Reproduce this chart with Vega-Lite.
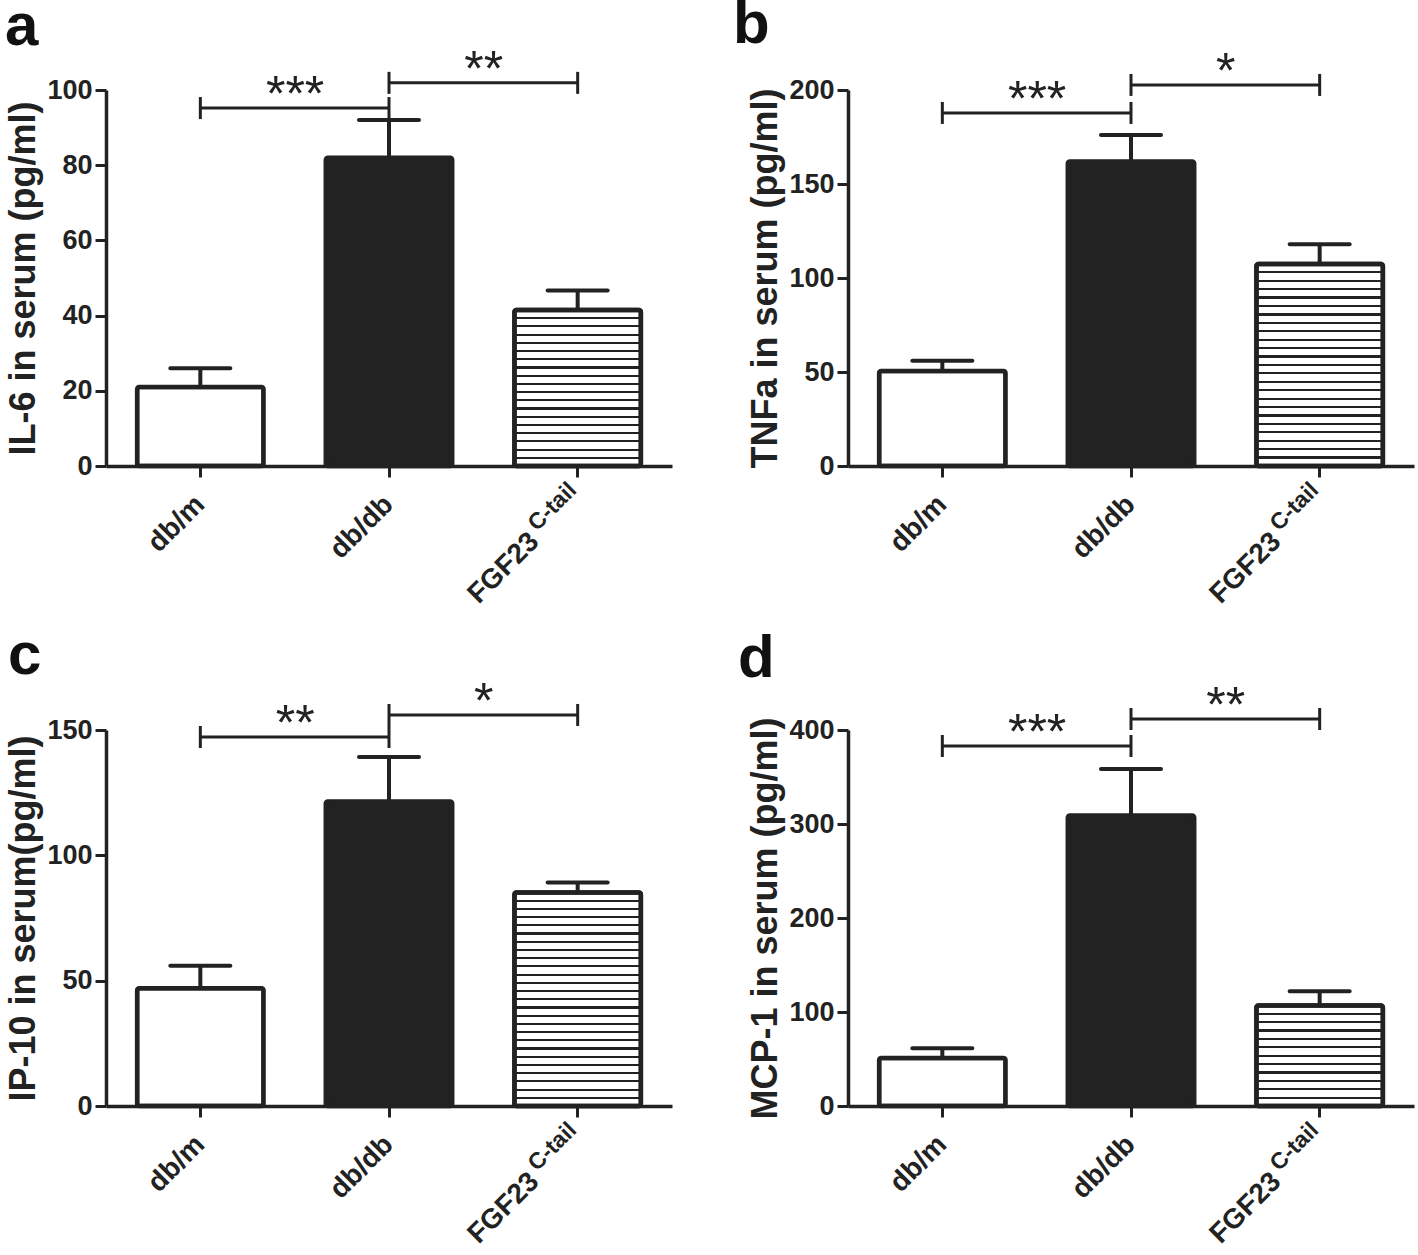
{
  "$schema": "https://vega.github.io/schema/vega-lite/v6.json",
  "background": "white",
  "padding": {"left": 5, "top": -6, "right": 2, "bottom": 2},
  "config": {
    "view": {"stroke": null},
    "font": "Liberation Sans",
    "axis": {"domainColor": "#222", "domainWidth": 3.5, "tickColor": "#222", "tickWidth": 3, "tickSize": 11, "labelColor": "#222", "labelFont": "Liberation Sans", "labelFontWeight": "bold", "labelFontSize": 27, "titleColor": "#222", "titleFont": "Liberation Sans", "titleFontWeight": "bold", "titleFontSize": 36, "grid": false, "labelPadding": 3},
    "axisX": {"labelFontSize": 28, "labelAngle": -45, "labelAlign": "right", "labelBaseline": "middle"},
    "axisY": {"titlePadding": 4},
    "title": {"font": "Liberation Sans", "fontSize": 60, "fontWeight": "bold", "color": "#111", "anchor": "start", "frame": "group"}
  },
  "datasets": {
    "il6": [{"group": "db/m", "mean": 21, "upper": 26}, {"group": "db/db", "mean": 82, "upper": 92}, {"group": "FGF23 C-tail", "mean": 41.5, "upper": 46.7}],
    "il6_sig": [{"from": "db/m", "to": "db/db", "y": 95.2, "label": "***"}, {"from": "db/db", "to": "FGF23 C-tail", "y": 101.9, "label": "**"}],
    "tnf": [{"group": "db/m", "mean": 50.5, "upper": 56}, {"group": "db/db", "mean": 162, "upper": 176}, {"group": "FGF23 C-tail", "mean": 107.5, "upper": 118}],
    "tnf_sig": [{"from": "db/m", "to": "db/db", "y": 187.8, "label": "***"}, {"from": "db/db", "to": "FGF23 C-tail", "y": 202.7, "label": "*"}],
    "ip10": [{"group": "db/m", "mean": 47, "upper": 56}, {"group": "db/db", "mean": 121.5, "upper": 139.2}, {"group": "FGF23 C-tail", "mean": 85.2, "upper": 89.2}],
    "ip10_sig": [{"from": "db/m", "to": "db/db", "y": 147.2, "label": "**"}, {"from": "db/db", "to": "FGF23 C-tail", "y": 156, "label": "*"}],
    "mcp": [{"group": "db/m", "mean": 51, "upper": 61.5}, {"group": "db/db", "mean": 309, "upper": 358.6}, {"group": "FGF23 C-tail", "mean": 107, "upper": 122}],
    "mcp_sig": [{"from": "db/m", "to": "db/db", "y": 383, "label": "***"}, {"from": "db/db", "to": "FGF23 C-tail", "y": 411.7, "label": "**"}]
  },
  "columns": 2,
  "spacing": {"row": 264, "column": 176},
  "bounds": "flush",
  "concat": [
    {
      "width": 566, "height": 376,
      "title": {"text": "a", "dx": -101, "offset": -12},
      "data": {"name": "il6"},
      "layer": [
        {"mark": {"type": "bar", "stroke": "#222", "strokeWidth": 4.5, "cornerRadius": 2},
         "encoding": {
           "x": {"field": "group", "type": "nominal", "scale": {"domain": ["db/m", "db/db", "FGF23 C-tail"], "paddingInner": 0.33, "paddingOuter": 0.165}, "axis": {"title": null, "labelExpr": "datum.value == 'FGF23 C-tail' ? 'FGF23' : datum.value", "labelPadding": {"condition": {"test": "datum.value == 'FGF23 C-tail'", "value": 60}, "value": 23}, "labelOffset": {"condition": {"test": "datum.value == 'FGF23 C-tail'", "value": -43}, "value": 0}}},
           "y": {"field": "mean", "type": "quantitative", "scale": {"domain": [0, 100], "nice": false}, "axis": {"title": "IL-6 in serum (pg/ml)", "values": [0, 20, 40, 60, 80, 100]}},
           "fill": {"condition": {"test": "datum.group === 'db/db'", "value": "#222"}, "value": "#fff"}}},
        {"transform": [{"filter": "datum.group === 'FGF23 C-tail'"}],
         "mark": {"type": "bar", "stroke": "#222", "strokeWidth": 4.5, "cornerRadius": 2, "fill": {"gradient": "linear", "x1": 0, "y1": 0, "x2": 0, "y2": 1, "stops": [
           {"offset": 0, "color": "#fff"},
           {"offset": 0.0458, "color": "#fff"}, {"offset": 0.0458, "color": "#222"}, {"offset": 0.0595, "color": "#222"}, {"offset": 0.0595, "color": "#fff"},
           {"offset": 0.0984, "color": "#fff"}, {"offset": 0.0984, "color": "#222"}, {"offset": 0.1121, "color": "#222"}, {"offset": 0.1121, "color": "#fff"},
           {"offset": 0.1511, "color": "#fff"}, {"offset": 0.1511, "color": "#222"}, {"offset": 0.1647, "color": "#222"}, {"offset": 0.1647, "color": "#fff"},
           {"offset": 0.2037, "color": "#fff"}, {"offset": 0.2037, "color": "#222"}, {"offset": 0.2174, "color": "#222"}, {"offset": 0.2174, "color": "#fff"},
           {"offset": 0.2563, "color": "#fff"}, {"offset": 0.2563, "color": "#222"}, {"offset": 0.27, "color": "#222"}, {"offset": 0.27, "color": "#fff"},
           {"offset": 0.309, "color": "#fff"}, {"offset": 0.309, "color": "#222"}, {"offset": 0.3226, "color": "#222"}, {"offset": 0.3226, "color": "#fff"},
           {"offset": 0.3616, "color": "#fff"}, {"offset": 0.3616, "color": "#222"}, {"offset": 0.3753, "color": "#222"}, {"offset": 0.3753, "color": "#fff"},
           {"offset": 0.4142, "color": "#fff"}, {"offset": 0.4142, "color": "#222"}, {"offset": 0.4279, "color": "#222"}, {"offset": 0.4279, "color": "#fff"},
           {"offset": 0.4668, "color": "#fff"}, {"offset": 0.4668, "color": "#222"}, {"offset": 0.4805, "color": "#222"}, {"offset": 0.4805, "color": "#fff"},
           {"offset": 0.5195, "color": "#fff"}, {"offset": 0.5195, "color": "#222"}, {"offset": 0.5332, "color": "#222"}, {"offset": 0.5332, "color": "#fff"},
           {"offset": 0.5721, "color": "#fff"}, {"offset": 0.5721, "color": "#222"}, {"offset": 0.5858, "color": "#222"}, {"offset": 0.5858, "color": "#fff"},
           {"offset": 0.6247, "color": "#fff"}, {"offset": 0.6247, "color": "#222"}, {"offset": 0.6384, "color": "#222"}, {"offset": 0.6384, "color": "#fff"},
           {"offset": 0.6774, "color": "#fff"}, {"offset": 0.6774, "color": "#222"}, {"offset": 0.6911, "color": "#222"}, {"offset": 0.6911, "color": "#fff"},
           {"offset": 0.73, "color": "#fff"}, {"offset": 0.73, "color": "#222"}, {"offset": 0.7437, "color": "#222"}, {"offset": 0.7437, "color": "#fff"},
           {"offset": 0.7826, "color": "#fff"}, {"offset": 0.7826, "color": "#222"}, {"offset": 0.7963, "color": "#222"}, {"offset": 0.7963, "color": "#fff"},
           {"offset": 0.8353, "color": "#fff"}, {"offset": 0.8353, "color": "#222"}, {"offset": 0.8489, "color": "#222"}, {"offset": 0.8489, "color": "#fff"},
           {"offset": 0.8879, "color": "#fff"}, {"offset": 0.8879, "color": "#222"}, {"offset": 0.9016, "color": "#222"}, {"offset": 0.9016, "color": "#fff"},
           {"offset": 0.9405, "color": "#fff"}, {"offset": 0.9405, "color": "#222"}, {"offset": 0.9542, "color": "#222"}, {"offset": 0.9542, "color": "#fff"},
           {"offset": 1, "color": "#fff"}]}},
         "encoding": {"x": {"field": "group", "type": "nominal"}, "y": {"field": "mean", "type": "quantitative"}}},
        {"mark": {"type": "rule", "color": "#222", "strokeWidth": 4},
         "encoding": {"x": {"field": "group", "type": "nominal"}, "y": {"field": "mean", "type": "quantitative"}, "y2": {"field": "upper"}}},
        {"mark": {"type": "tick", "orient": "horizontal", "color": "#222", "size": 64, "thickness": 4, "opacity": 1, "cornerRadius": 2},
         "encoding": {"x": {"field": "group", "type": "nominal"}, "y": {"field": "upper", "type": "quantitative"}}},
        {"transform": [{"filter": "datum.group === 'FGF23 C-tail'"}],
         "mark": {"type": "text", "text": "C-tail", "angle": 315, "align": "right", "baseline": "middle", "fontSize": 23, "fontWeight": "bold", "color": "#222", "dx": -18, "dy": 11},
         "encoding": {"x": {"field": "group", "type": "nominal"}, "y": {"datum": 0, "type": "quantitative"}}},
        {"data": {"name": "il6_sig"}, "mark": {"type": "rule", "color": "#222", "strokeWidth": 3},
         "encoding": {"x": {"field": "from", "type": "nominal"}, "x2": {"field": "to"}, "y": {"field": "y", "type": "quantitative"}}},
        {"data": {"name": "il6_sig"}, "mark": {"type": "tick", "orient": "vertical", "color": "#222", "size": 22, "thickness": 3, "opacity": 1},
         "encoding": {"x": {"field": "from", "type": "nominal"}, "y": {"field": "y", "type": "quantitative"}}},
        {"data": {"name": "il6_sig"}, "mark": {"type": "tick", "orient": "vertical", "color": "#222", "size": 22, "thickness": 3, "opacity": 1},
         "encoding": {"x": {"field": "to", "type": "nominal"}, "y": {"field": "y", "type": "quantitative"}}},
        {"data": {"name": "il6_sig"}, "mark": {"type": "text", "fontSize": 50, "baseline": "alphabetic", "align": "center", "dy": 3, "color": "#222"},
         "encoding": {"x": {"field": "from", "type": "nominal", "bandPosition": 1.25}, "y": {"field": "y", "type": "quantitative"}, "text": {"field": "label"}}}
      ]
    },
    {
      "width": 566, "height": 376,
      "title": {"text": "b", "dx": -115, "offset": -8},
      "data": {"name": "tnf"},
      "layer": [
        {"mark": {"type": "bar", "stroke": "#222", "strokeWidth": 4.5, "cornerRadius": 2},
         "encoding": {
           "x": {"field": "group", "type": "nominal", "scale": {"domain": ["db/m", "db/db", "FGF23 C-tail"], "paddingInner": 0.33, "paddingOuter": 0.165}, "axis": {"title": null, "labelExpr": "datum.value == 'FGF23 C-tail' ? 'FGF23' : datum.value", "labelPadding": {"condition": {"test": "datum.value == 'FGF23 C-tail'", "value": 60}, "value": 23}, "labelOffset": {"condition": {"test": "datum.value == 'FGF23 C-tail'", "value": -43}, "value": 0}}},
           "y": {"field": "mean", "type": "quantitative", "scale": {"domain": [0, 200], "nice": false}, "axis": {"title": "TNFa in serum (pg/ml)", "values": [0, 50, 100, 150, 200]}},
           "fill": {"condition": {"test": "datum.group === 'db/db'", "value": "#222"}, "value": "#fff"}}},
        {"transform": [{"filter": "datum.group === 'FGF23 C-tail'"}],
         "mark": {"type": "bar", "stroke": "#222", "strokeWidth": 4.5, "cornerRadius": 2, "fill": {"gradient": "linear", "x1": 0, "y1": 0, "x2": 0, "y2": 1, "stops": [
           {"offset": 0, "color": "#fff"},
           {"offset": 0.0362, "color": "#fff"}, {"offset": 0.0362, "color": "#222"}, {"offset": 0.0471, "color": "#222"}, {"offset": 0.0471, "color": "#fff"},
           {"offset": 0.0779, "color": "#fff"}, {"offset": 0.0779, "color": "#222"}, {"offset": 0.0888, "color": "#222"}, {"offset": 0.0888, "color": "#fff"},
           {"offset": 0.1196, "color": "#fff"}, {"offset": 0.1196, "color": "#222"}, {"offset": 0.1304, "color": "#222"}, {"offset": 0.1304, "color": "#fff"},
           {"offset": 0.1612, "color": "#fff"}, {"offset": 0.1612, "color": "#222"}, {"offset": 0.1721, "color": "#222"}, {"offset": 0.1721, "color": "#fff"},
           {"offset": 0.2029, "color": "#fff"}, {"offset": 0.2029, "color": "#222"}, {"offset": 0.2138, "color": "#222"}, {"offset": 0.2138, "color": "#fff"},
           {"offset": 0.2446, "color": "#fff"}, {"offset": 0.2446, "color": "#222"}, {"offset": 0.2554, "color": "#222"}, {"offset": 0.2554, "color": "#fff"},
           {"offset": 0.2862, "color": "#fff"}, {"offset": 0.2862, "color": "#222"}, {"offset": 0.2971, "color": "#222"}, {"offset": 0.2971, "color": "#fff"},
           {"offset": 0.3279, "color": "#fff"}, {"offset": 0.3279, "color": "#222"}, {"offset": 0.3388, "color": "#222"}, {"offset": 0.3388, "color": "#fff"},
           {"offset": 0.3696, "color": "#fff"}, {"offset": 0.3696, "color": "#222"}, {"offset": 0.3804, "color": "#222"}, {"offset": 0.3804, "color": "#fff"},
           {"offset": 0.4112, "color": "#fff"}, {"offset": 0.4112, "color": "#222"}, {"offset": 0.4221, "color": "#222"}, {"offset": 0.4221, "color": "#fff"},
           {"offset": 0.4529, "color": "#fff"}, {"offset": 0.4529, "color": "#222"}, {"offset": 0.4638, "color": "#222"}, {"offset": 0.4638, "color": "#fff"},
           {"offset": 0.4946, "color": "#fff"}, {"offset": 0.4946, "color": "#222"}, {"offset": 0.5054, "color": "#222"}, {"offset": 0.5054, "color": "#fff"},
           {"offset": 0.5362, "color": "#fff"}, {"offset": 0.5362, "color": "#222"}, {"offset": 0.5471, "color": "#222"}, {"offset": 0.5471, "color": "#fff"},
           {"offset": 0.5779, "color": "#fff"}, {"offset": 0.5779, "color": "#222"}, {"offset": 0.5888, "color": "#222"}, {"offset": 0.5888, "color": "#fff"},
           {"offset": 0.6196, "color": "#fff"}, {"offset": 0.6196, "color": "#222"}, {"offset": 0.6304, "color": "#222"}, {"offset": 0.6304, "color": "#fff"},
           {"offset": 0.6612, "color": "#fff"}, {"offset": 0.6612, "color": "#222"}, {"offset": 0.6721, "color": "#222"}, {"offset": 0.6721, "color": "#fff"},
           {"offset": 0.7029, "color": "#fff"}, {"offset": 0.7029, "color": "#222"}, {"offset": 0.7138, "color": "#222"}, {"offset": 0.7138, "color": "#fff"},
           {"offset": 0.7446, "color": "#fff"}, {"offset": 0.7446, "color": "#222"}, {"offset": 0.7554, "color": "#222"}, {"offset": 0.7554, "color": "#fff"},
           {"offset": 0.7862, "color": "#fff"}, {"offset": 0.7862, "color": "#222"}, {"offset": 0.7971, "color": "#222"}, {"offset": 0.7971, "color": "#fff"},
           {"offset": 0.8279, "color": "#fff"}, {"offset": 0.8279, "color": "#222"}, {"offset": 0.8388, "color": "#222"}, {"offset": 0.8388, "color": "#fff"},
           {"offset": 0.8696, "color": "#fff"}, {"offset": 0.8696, "color": "#222"}, {"offset": 0.8804, "color": "#222"}, {"offset": 0.8804, "color": "#fff"},
           {"offset": 0.9112, "color": "#fff"}, {"offset": 0.9112, "color": "#222"}, {"offset": 0.9221, "color": "#222"}, {"offset": 0.9221, "color": "#fff"},
           {"offset": 0.9529, "color": "#fff"}, {"offset": 0.9529, "color": "#222"}, {"offset": 0.9638, "color": "#222"}, {"offset": 0.9638, "color": "#fff"},
           {"offset": 1, "color": "#fff"}]}},
         "encoding": {"x": {"field": "group", "type": "nominal"}, "y": {"field": "mean", "type": "quantitative"}}},
        {"mark": {"type": "rule", "color": "#222", "strokeWidth": 4},
         "encoding": {"x": {"field": "group", "type": "nominal"}, "y": {"field": "mean", "type": "quantitative"}, "y2": {"field": "upper"}}},
        {"mark": {"type": "tick", "orient": "horizontal", "color": "#222", "size": 64, "thickness": 4, "opacity": 1, "cornerRadius": 2},
         "encoding": {"x": {"field": "group", "type": "nominal"}, "y": {"field": "upper", "type": "quantitative"}}},
        {"transform": [{"filter": "datum.group === 'FGF23 C-tail'"}],
         "mark": {"type": "text", "text": "C-tail", "angle": 315, "align": "right", "baseline": "middle", "fontSize": 23, "fontWeight": "bold", "color": "#222", "dx": -18, "dy": 11},
         "encoding": {"x": {"field": "group", "type": "nominal"}, "y": {"datum": 0, "type": "quantitative"}}},
        {"data": {"name": "tnf_sig"}, "mark": {"type": "rule", "color": "#222", "strokeWidth": 3},
         "encoding": {"x": {"field": "from", "type": "nominal"}, "x2": {"field": "to"}, "y": {"field": "y", "type": "quantitative"}}},
        {"data": {"name": "tnf_sig"}, "mark": {"type": "tick", "orient": "vertical", "color": "#222", "size": 22, "thickness": 3, "opacity": 1},
         "encoding": {"x": {"field": "from", "type": "nominal"}, "y": {"field": "y", "type": "quantitative"}}},
        {"data": {"name": "tnf_sig"}, "mark": {"type": "tick", "orient": "vertical", "color": "#222", "size": 22, "thickness": 3, "opacity": 1},
         "encoding": {"x": {"field": "to", "type": "nominal"}, "y": {"field": "y", "type": "quantitative"}}},
        {"data": {"name": "tnf_sig"}, "mark": {"type": "text", "fontSize": 50, "baseline": "alphabetic", "align": "center", "dy": 3, "color": "#222"},
         "encoding": {"x": {"field": "from", "type": "nominal", "bandPosition": 1.25}, "y": {"field": "y", "type": "quantitative"}, "text": {"field": "label"}}}
      ]
    },
    {
      "width": 566, "height": 376,
      "title": {"text": "c", "dx": -98, "offset": -9},
      "data": {"name": "ip10"},
      "layer": [
        {"mark": {"type": "bar", "stroke": "#222", "strokeWidth": 4.5, "cornerRadius": 2},
         "encoding": {
           "x": {"field": "group", "type": "nominal", "scale": {"domain": ["db/m", "db/db", "FGF23 C-tail"], "paddingInner": 0.33, "paddingOuter": 0.165}, "axis": {"title": null, "labelExpr": "datum.value == 'FGF23 C-tail' ? 'FGF23' : datum.value", "labelPadding": {"condition": {"test": "datum.value == 'FGF23 C-tail'", "value": 60}, "value": 23}, "labelOffset": {"condition": {"test": "datum.value == 'FGF23 C-tail'", "value": -43}, "value": 0}}},
           "y": {"field": "mean", "type": "quantitative", "scale": {"domain": [0, 150], "nice": false}, "axis": {"title": "IP-10 in serum(pg/ml)", "values": [0, 50, 100, 150]}},
           "fill": {"condition": {"test": "datum.group === 'db/db'", "value": "#222"}, "value": "#fff"}}},
        {"transform": [{"filter": "datum.group === 'FGF23 C-tail'"}],
         "mark": {"type": "bar", "stroke": "#222", "strokeWidth": 4.5, "cornerRadius": 2, "fill": {"gradient": "linear", "x1": 0, "y1": 0, "x2": 0, "y2": 1, "stops": [
           {"offset": 0, "color": "#fff"},
           {"offset": 0.0335, "color": "#fff"}, {"offset": 0.0335, "color": "#222"}, {"offset": 0.0435, "color": "#222"}, {"offset": 0.0435, "color": "#fff"},
           {"offset": 0.0719, "color": "#fff"}, {"offset": 0.0719, "color": "#222"}, {"offset": 0.0819, "color": "#222"}, {"offset": 0.0819, "color": "#fff"},
           {"offset": 0.1104, "color": "#fff"}, {"offset": 0.1104, "color": "#222"}, {"offset": 0.1204, "color": "#222"}, {"offset": 0.1204, "color": "#fff"},
           {"offset": 0.1488, "color": "#fff"}, {"offset": 0.1488, "color": "#222"}, {"offset": 0.1588, "color": "#222"}, {"offset": 0.1588, "color": "#fff"},
           {"offset": 0.1873, "color": "#fff"}, {"offset": 0.1873, "color": "#222"}, {"offset": 0.1973, "color": "#222"}, {"offset": 0.1973, "color": "#fff"},
           {"offset": 0.2258, "color": "#fff"}, {"offset": 0.2258, "color": "#222"}, {"offset": 0.2358, "color": "#222"}, {"offset": 0.2358, "color": "#fff"},
           {"offset": 0.2642, "color": "#fff"}, {"offset": 0.2642, "color": "#222"}, {"offset": 0.2742, "color": "#222"}, {"offset": 0.2742, "color": "#fff"},
           {"offset": 0.3027, "color": "#fff"}, {"offset": 0.3027, "color": "#222"}, {"offset": 0.3127, "color": "#222"}, {"offset": 0.3127, "color": "#fff"},
           {"offset": 0.3412, "color": "#fff"}, {"offset": 0.3412, "color": "#222"}, {"offset": 0.3512, "color": "#222"}, {"offset": 0.3512, "color": "#fff"},
           {"offset": 0.3796, "color": "#fff"}, {"offset": 0.3796, "color": "#222"}, {"offset": 0.3896, "color": "#222"}, {"offset": 0.3896, "color": "#fff"},
           {"offset": 0.4181, "color": "#fff"}, {"offset": 0.4181, "color": "#222"}, {"offset": 0.4281, "color": "#222"}, {"offset": 0.4281, "color": "#fff"},
           {"offset": 0.4565, "color": "#fff"}, {"offset": 0.4565, "color": "#222"}, {"offset": 0.4665, "color": "#222"}, {"offset": 0.4665, "color": "#fff"},
           {"offset": 0.495, "color": "#fff"}, {"offset": 0.495, "color": "#222"}, {"offset": 0.505, "color": "#222"}, {"offset": 0.505, "color": "#fff"},
           {"offset": 0.5335, "color": "#fff"}, {"offset": 0.5335, "color": "#222"}, {"offset": 0.5435, "color": "#222"}, {"offset": 0.5435, "color": "#fff"},
           {"offset": 0.5719, "color": "#fff"}, {"offset": 0.5719, "color": "#222"}, {"offset": 0.5819, "color": "#222"}, {"offset": 0.5819, "color": "#fff"},
           {"offset": 0.6104, "color": "#fff"}, {"offset": 0.6104, "color": "#222"}, {"offset": 0.6204, "color": "#222"}, {"offset": 0.6204, "color": "#fff"},
           {"offset": 0.6488, "color": "#fff"}, {"offset": 0.6488, "color": "#222"}, {"offset": 0.6588, "color": "#222"}, {"offset": 0.6588, "color": "#fff"},
           {"offset": 0.6873, "color": "#fff"}, {"offset": 0.6873, "color": "#222"}, {"offset": 0.6973, "color": "#222"}, {"offset": 0.6973, "color": "#fff"},
           {"offset": 0.7258, "color": "#fff"}, {"offset": 0.7258, "color": "#222"}, {"offset": 0.7358, "color": "#222"}, {"offset": 0.7358, "color": "#fff"},
           {"offset": 0.7642, "color": "#fff"}, {"offset": 0.7642, "color": "#222"}, {"offset": 0.7742, "color": "#222"}, {"offset": 0.7742, "color": "#fff"},
           {"offset": 0.8027, "color": "#fff"}, {"offset": 0.8027, "color": "#222"}, {"offset": 0.8127, "color": "#222"}, {"offset": 0.8127, "color": "#fff"},
           {"offset": 0.8412, "color": "#fff"}, {"offset": 0.8412, "color": "#222"}, {"offset": 0.8512, "color": "#222"}, {"offset": 0.8512, "color": "#fff"},
           {"offset": 0.8796, "color": "#fff"}, {"offset": 0.8796, "color": "#222"}, {"offset": 0.8896, "color": "#222"}, {"offset": 0.8896, "color": "#fff"},
           {"offset": 0.9181, "color": "#fff"}, {"offset": 0.9181, "color": "#222"}, {"offset": 0.9281, "color": "#222"}, {"offset": 0.9281, "color": "#fff"},
           {"offset": 0.9565, "color": "#fff"}, {"offset": 0.9565, "color": "#222"}, {"offset": 0.9665, "color": "#222"}, {"offset": 0.9665, "color": "#fff"},
           {"offset": 1, "color": "#fff"}]}},
         "encoding": {"x": {"field": "group", "type": "nominal"}, "y": {"field": "mean", "type": "quantitative"}}},
        {"mark": {"type": "rule", "color": "#222", "strokeWidth": 4},
         "encoding": {"x": {"field": "group", "type": "nominal"}, "y": {"field": "mean", "type": "quantitative"}, "y2": {"field": "upper"}}},
        {"mark": {"type": "tick", "orient": "horizontal", "color": "#222", "size": 64, "thickness": 4, "opacity": 1, "cornerRadius": 2},
         "encoding": {"x": {"field": "group", "type": "nominal"}, "y": {"field": "upper", "type": "quantitative"}}},
        {"transform": [{"filter": "datum.group === 'FGF23 C-tail'"}],
         "mark": {"type": "text", "text": "C-tail", "angle": 315, "align": "right", "baseline": "middle", "fontSize": 23, "fontWeight": "bold", "color": "#222", "dx": -18, "dy": 11},
         "encoding": {"x": {"field": "group", "type": "nominal"}, "y": {"datum": 0, "type": "quantitative"}}},
        {"data": {"name": "ip10_sig"}, "mark": {"type": "rule", "color": "#222", "strokeWidth": 3},
         "encoding": {"x": {"field": "from", "type": "nominal"}, "x2": {"field": "to"}, "y": {"field": "y", "type": "quantitative"}}},
        {"data": {"name": "ip10_sig"}, "mark": {"type": "tick", "orient": "vertical", "color": "#222", "size": 22, "thickness": 3, "opacity": 1},
         "encoding": {"x": {"field": "from", "type": "nominal"}, "y": {"field": "y", "type": "quantitative"}}},
        {"data": {"name": "ip10_sig"}, "mark": {"type": "tick", "orient": "vertical", "color": "#222", "size": 22, "thickness": 3, "opacity": 1},
         "encoding": {"x": {"field": "to", "type": "nominal"}, "y": {"field": "y", "type": "quantitative"}}},
        {"data": {"name": "ip10_sig"}, "mark": {"type": "text", "fontSize": 50, "baseline": "alphabetic", "align": "center", "dy": 3, "color": "#222"},
         "encoding": {"x": {"field": "from", "type": "nominal", "bandPosition": 1.25}, "y": {"field": "y", "type": "quantitative"}, "text": {"field": "label"}}}
      ]
    },
    {
      "width": 566, "height": 376,
      "title": {"text": "d", "dx": -110, "offset": -8},
      "data": {"name": "mcp"},
      "layer": [
        {"mark": {"type": "bar", "stroke": "#222", "strokeWidth": 4.5, "cornerRadius": 2},
         "encoding": {
           "x": {"field": "group", "type": "nominal", "scale": {"domain": ["db/m", "db/db", "FGF23 C-tail"], "paddingInner": 0.33, "paddingOuter": 0.165}, "axis": {"title": null, "labelExpr": "datum.value == 'FGF23 C-tail' ? 'FGF23' : datum.value", "labelPadding": {"condition": {"test": "datum.value == 'FGF23 C-tail'", "value": 60}, "value": 23}, "labelOffset": {"condition": {"test": "datum.value == 'FGF23 C-tail'", "value": -43}, "value": 0}}},
           "y": {"field": "mean", "type": "quantitative", "scale": {"domain": [0, 400], "nice": false}, "axis": {"title": "MCP-1 in serum (pg/ml)", "values": [0, 100, 200, 300, 400]}},
           "fill": {"condition": {"test": "datum.group === 'db/db'", "value": "#222"}, "value": "#fff"}}},
        {"transform": [{"filter": "datum.group === 'FGF23 C-tail'"}],
         "mark": {"type": "bar", "stroke": "#222", "strokeWidth": 4.5, "cornerRadius": 2, "fill": {"gradient": "linear", "x1": 0, "y1": 0, "x2": 0, "y2": 1, "stops": [
           {"offset": 0, "color": "#fff"},
           {"offset": 0.0725, "color": "#fff"}, {"offset": 0.0725, "color": "#222"}, {"offset": 0.0941, "color": "#222"}, {"offset": 0.0941, "color": "#fff"},
           {"offset": 0.1559, "color": "#fff"}, {"offset": 0.1559, "color": "#222"}, {"offset": 0.1775, "color": "#222"}, {"offset": 0.1775, "color": "#fff"},
           {"offset": 0.2392, "color": "#fff"}, {"offset": 0.2392, "color": "#222"}, {"offset": 0.2608, "color": "#222"}, {"offset": 0.2608, "color": "#fff"},
           {"offset": 0.3225, "color": "#fff"}, {"offset": 0.3225, "color": "#222"}, {"offset": 0.3441, "color": "#222"}, {"offset": 0.3441, "color": "#fff"},
           {"offset": 0.4059, "color": "#fff"}, {"offset": 0.4059, "color": "#222"}, {"offset": 0.4275, "color": "#222"}, {"offset": 0.4275, "color": "#fff"},
           {"offset": 0.4892, "color": "#fff"}, {"offset": 0.4892, "color": "#222"}, {"offset": 0.5108, "color": "#222"}, {"offset": 0.5108, "color": "#fff"},
           {"offset": 0.5725, "color": "#fff"}, {"offset": 0.5725, "color": "#222"}, {"offset": 0.5941, "color": "#222"}, {"offset": 0.5941, "color": "#fff"},
           {"offset": 0.6559, "color": "#fff"}, {"offset": 0.6559, "color": "#222"}, {"offset": 0.6775, "color": "#222"}, {"offset": 0.6775, "color": "#fff"},
           {"offset": 0.7392, "color": "#fff"}, {"offset": 0.7392, "color": "#222"}, {"offset": 0.7608, "color": "#222"}, {"offset": 0.7608, "color": "#fff"},
           {"offset": 0.8225, "color": "#fff"}, {"offset": 0.8225, "color": "#222"}, {"offset": 0.8441, "color": "#222"}, {"offset": 0.8441, "color": "#fff"},
           {"offset": 0.9059, "color": "#fff"}, {"offset": 0.9059, "color": "#222"}, {"offset": 0.9275, "color": "#222"}, {"offset": 0.9275, "color": "#fff"},
           {"offset": 1, "color": "#fff"}]}},
         "encoding": {"x": {"field": "group", "type": "nominal"}, "y": {"field": "mean", "type": "quantitative"}}},
        {"mark": {"type": "rule", "color": "#222", "strokeWidth": 4},
         "encoding": {"x": {"field": "group", "type": "nominal"}, "y": {"field": "mean", "type": "quantitative"}, "y2": {"field": "upper"}}},
        {"mark": {"type": "tick", "orient": "horizontal", "color": "#222", "size": 64, "thickness": 4, "opacity": 1, "cornerRadius": 2},
         "encoding": {"x": {"field": "group", "type": "nominal"}, "y": {"field": "upper", "type": "quantitative"}}},
        {"transform": [{"filter": "datum.group === 'FGF23 C-tail'"}],
         "mark": {"type": "text", "text": "C-tail", "angle": 315, "align": "right", "baseline": "middle", "fontSize": 23, "fontWeight": "bold", "color": "#222", "dx": -18, "dy": 11},
         "encoding": {"x": {"field": "group", "type": "nominal"}, "y": {"datum": 0, "type": "quantitative"}}},
        {"data": {"name": "mcp_sig"}, "mark": {"type": "rule", "color": "#222", "strokeWidth": 3},
         "encoding": {"x": {"field": "from", "type": "nominal"}, "x2": {"field": "to"}, "y": {"field": "y", "type": "quantitative"}}},
        {"data": {"name": "mcp_sig"}, "mark": {"type": "tick", "orient": "vertical", "color": "#222", "size": 22, "thickness": 3, "opacity": 1},
         "encoding": {"x": {"field": "from", "type": "nominal"}, "y": {"field": "y", "type": "quantitative"}}},
        {"data": {"name": "mcp_sig"}, "mark": {"type": "tick", "orient": "vertical", "color": "#222", "size": 22, "thickness": 3, "opacity": 1},
         "encoding": {"x": {"field": "to", "type": "nominal"}, "y": {"field": "y", "type": "quantitative"}}},
        {"data": {"name": "mcp_sig"}, "mark": {"type": "text", "fontSize": 50, "baseline": "alphabetic", "align": "center", "dy": 3, "color": "#222"},
         "encoding": {"x": {"field": "from", "type": "nominal", "bandPosition": 1.25}, "y": {"field": "y", "type": "quantitative"}, "text": {"field": "label"}}}
      ]
    }
  ]
}
